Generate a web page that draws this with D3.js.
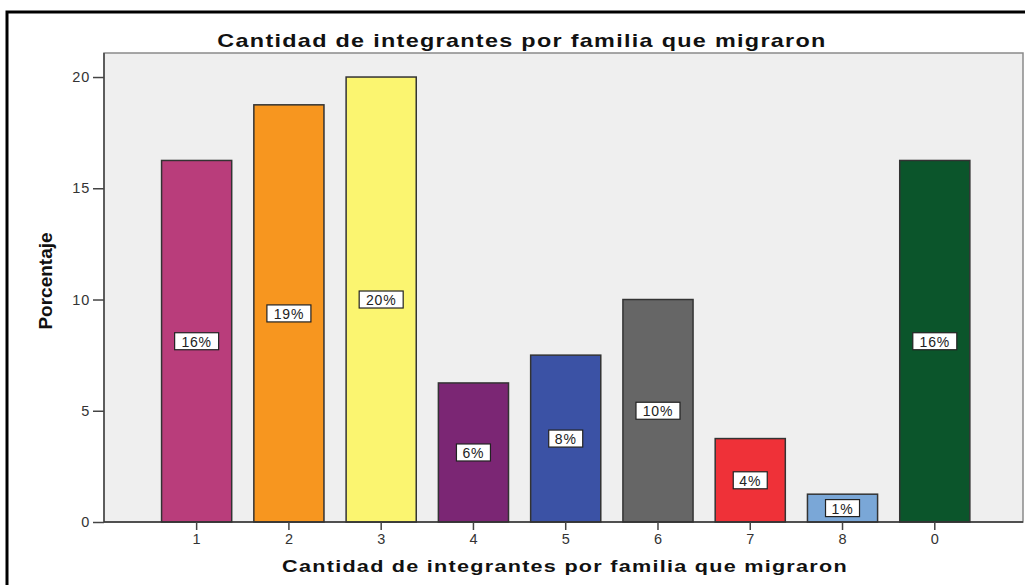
<!DOCTYPE html>
<html>
<head>
<meta charset="utf-8">
<script src="https://cdn.jsdelivr.net/npm/d3@7"></script>
<style>
  body { margin: 0; background: #fff; }
  svg text { font-family: "Liberation Sans", Arial, sans-serif; }
</style>
</head>
<body>
<div id="chart"></div>
<script>
(function() {
    "use strict";

    // data (percent of 80 families)
    var categories = ["1", "2", "3", "4", "5", "6", "7", "8", "0"];
    var percents = [16.25, 18.75, 20, 6.25, 7.5, 10, 3.75, 1.25, 16.25];
    var labels = ["16%", "19%", "20%", "6%", "8%", "10%", "4%", "1%", "16%"];
    var yTicks = [0, 5, 10, 15, 20];
    var colors = ["#b93d7b", "#f7961f", "#fbf570", "#7b2674", "#3b52a5",
                  "#666666", "#ef3138", "#7aa7d7", "#0b552b"];

    var title = "Cantidad de integrantes por familia que migraron";
    var xTitle = "Cantidad de integrantes por familia que migraron";
    var yTitle = "Porcentaje";

    var W = 1025, H = 585;
    var left = 104, top = 53, right = 1023, bottom = 522;

    var svg = d3.select("#chart").append("svg")
        .attr("width", W).attr("height", H);

    // outer frame
    svg.append("rect")
        .attr("x", 7).attr("y", 12)
        .attr("width", W + 20).attr("height", H + 20)
        .attr("fill", "#fff")
        .attr("stroke", "#000").attr("stroke-width", 3);

    var y = d3.scaleLinear().domain([0, 21.08]).range([bottom, top]);
    var x = d3.scaleBand().domain(categories)
        .range([left, right])
        .paddingInner(0.24).paddingOuter(0.6).align(0.52);

    // plot background
    svg.append("rect")
        .attr("x", left).attr("y", top)
        .attr("width", right - left).attr("height", bottom - top)
        .attr("fill", "#efefef")
        .attr("stroke", "#8a8a8a").attr("stroke-width", 1.5);

    // bars
    svg.append("g").selectAll("rect")
        .data(percents)
        .join("rect")
        .attr("x", function(d, i) { return x(categories[i]); })
        .attr("y", function(d) { return y(d); })
        .attr("width", x.bandwidth())
        .attr("height", function(d) { return y(0) - y(d); })
        .attr("fill", function(d, i) { return colors[i]; })
        .attr("stroke", "#333").attr("stroke-width", 1.5);

    // value labels
    var lab = svg.append("g").selectAll("g")
        .data(percents)
        .join("g")
        .attr("transform", function(d, i) {
            return "translate(" + (x(categories[i]) + x.bandwidth() / 2) + "," + y(d / 2) + ")";
        });
    lab.append("rect")
        .attr("x", function(d, i) { return labels[i].length > 2 ? -22 : -17; })
        .attr("y", -8.5)
        .attr("width", function(d, i) { return labels[i].length > 2 ? 44 : 34; })
        .attr("height", 17)
        .attr("fill", "#fff")
        .attr("stroke", "#222").attr("stroke-width", 1.2);
    lab.append("text")
        .attr("text-anchor", "middle")
        .attr("y", 5.5)
        .attr("font-size", 14)
        .attr("letter-spacing", 0.8)
        .attr("fill", "#222")
        .text(function(d, i) { return labels[i]; });

    // y axis
    var yAxis = svg.append("g")
        .attr("transform", "translate(" + left + ",0)")
        .call(d3.axisLeft(y).tickValues(yTicks).tickSize(11).tickPadding(3));
    yAxis.select(".domain").attr("stroke", "#444").attr("stroke-width", 1.5)
        .attr("d", "M0," + top + "V" + bottom);
    yAxis.selectAll(".tick line").attr("stroke", "#444").attr("stroke-width", 1.5);
    yAxis.selectAll(".tick text").attr("font-size", 14.5).attr("fill", "#333")
        .attr("letter-spacing", 0.8)
        .attr("font-family", "Liberation Sans, Arial, sans-serif");

    // x axis
    var xAxis = svg.append("g")
        .attr("transform", "translate(0," + bottom + ")")
        .call(d3.axisBottom(x).tickSize(8).tickPadding(4));
    xAxis.select(".domain").attr("stroke", "#333").attr("stroke-width", 1.5)
        .attr("d", "M" + left + ",0H" + right);
    xAxis.selectAll(".tick line").attr("stroke", "#444").attr("stroke-width", 1.5);
    xAxis.selectAll(".tick text").attr("font-size", 14.5).attr("fill", "#333")
        .attr("font-family", "Liberation Sans, Arial, sans-serif");

    // titles (the original fonts are wide, so stretch horizontally)
    svg.append("text")
        .attr("transform", "translate(522,47) scale(1.3,1)")
        .attr("text-anchor", "middle")
        .attr("font-size", 18).attr("font-weight", "bold")
        .attr("letter-spacing", 1)
        .attr("fill", "#111")
        .text(title);

    svg.append("text")
        .attr("transform", "translate(565,572) scale(1.27,1)")
        .attr("text-anchor", "middle")
        .attr("font-size", 17).attr("font-weight", "bold")
        .attr("letter-spacing", 1)
        .attr("fill", "#111")
        .text(xTitle);

    svg.append("text")
        .attr("transform", "translate(52,281) rotate(-90)")
        .attr("text-anchor", "middle")
        .attr("font-family", "Liberation Sans Narrow, Arial Narrow, sans-serif")
        .attr("font-size", 19).attr("font-weight", "bold")
        .attr("fill", "#111")
        .text(yTitle);
}());
</script>
</body>
</html>
